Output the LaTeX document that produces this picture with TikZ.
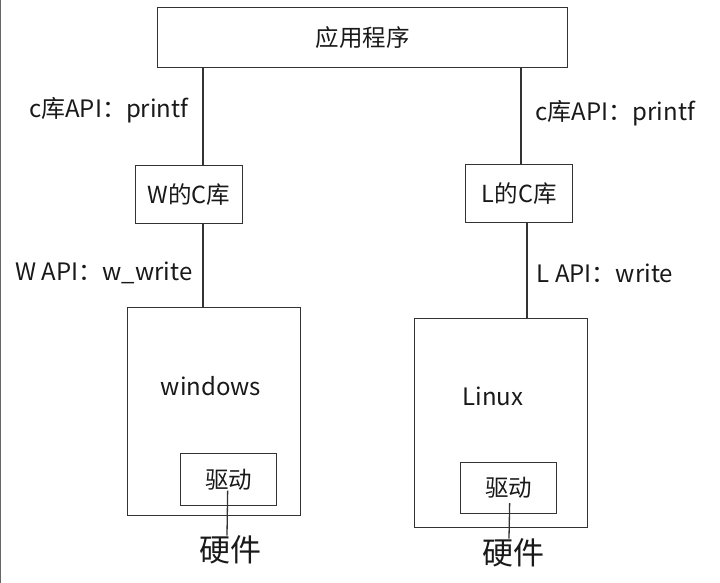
\documentclass[tikz,border=0pt]{standalone}
\usepackage{fontspec}
\setmainfont{Noto Sans CJK SC}
\usetikzlibrary{positioning, calc}

\begin{document}
\begin{tikzpicture}[
  x=1pt, y=-1pt,
  box/.style  = {draw=black!80, line width=1.3pt, inner sep=0pt, anchor=north west,
                 font=\fontsize{23.5}{27}\selectfont, text=black!90},
  link/.style = {draw=black!80, line width=1.3pt},
  lbl/.style  = {font=\fontsize{24}{28}\selectfont, text=black!90, inner sep=0pt},
  hw/.style   = {font=\fontsize{31}{35}\selectfont, text=black!90, inner sep=0pt}
]
  \useasboundingbox (0,0) rectangle (720,583);
  % left edge of the screenshot
  \draw[black!60, line width=1pt] (0.5,0) -- (0.5,583);

  % application
  \node[box, minimum width=410pt, minimum height=60pt] (app) at (157,7) {应用程序};

  % C libraries
  \node[box, minimum width=107pt, minimum height=58pt] (wlib) at (135,165) {W的C库};
  \node[box, minimum width=107pt, minimum height=58pt] (llib) at (465,164) {L的C库};

  % operating systems
  \node[box, minimum width=173pt, minimum height=208pt] (win) at (127,307) {};
  \node[box, minimum width=173pt, minimum height=209pt] (lin) at (414,318) {};
  \node[lbl] (wintxt) at (211,386) {windows};
  \node[lbl] (lintxt) at (493,396) {Linux};

  % drivers
  \node[box, minimum width=96pt, minimum height=52pt] (wdrv) at (180,453) {驱动};
  \node[box, minimum width=96pt, minimum height=51pt] (ldrv) at (460,462) {驱动};

  % hardware
  \node[hw] (whw) at (230,550) {硬件};
  \node[hw] (lhw) at (513,553) {硬件};

  % connector columns
  \coordinate (wx) at (203,0);
  \coordinate (lx) at (521,0);
  \coordinate (lx2) at (527,0);

  \draw[link] (wx |- app.south) -- node[lbl, pos=0.43, left=14pt] {c库API：printf} (wx |- wlib.north);
  \draw[link] (lx |- app.south) -- node[lbl, pos=0.47, right=14pt] {c库API：printf} (lx |- llib.north);
  \draw[link] (wx |- wlib.south) -- node[lbl, pos=0.59, left=10pt] {W API：w\_write} (wx |- win.north);
  \draw[link] (lx2 |- llib.south) -- node[lbl, pos=0.53, right=9pt] {L API：write} (lx2 |- lin.north);

  \draw[link] ([xshift=-1pt, yshift=-11pt]wdrv.center) -- ([xshift=-3pt]whw.north);
  \draw[link] ([xshift=1pt, yshift=-15pt]ldrv.center) -- ([xshift=-4pt]lhw.north);
\end{tikzpicture}
\end{document}
